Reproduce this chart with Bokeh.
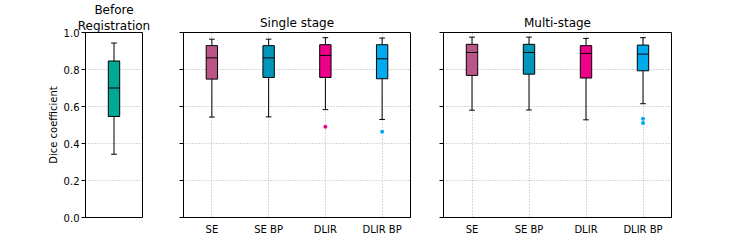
from bokeh.plotting import figure
from bokeh.layouts import row
from bokeh.models import ColumnDataSource, FixedTicker, PrintfTickFormatter, Range1d, Title
from bokeh.embed import file_html
from bokeh.resources import INLINE

# ---- data ----
before_cats = ["Before Registration"]
before_whislo = [0.342]
before_q1 = [0.546]
before_med = [0.700]
before_q3 = [0.846]
before_whishi = [0.943]
before_colors = ["#00A896"]

cats = ["SE", "SE BP", "DLIR", "DLIR BP"]
colors = ["#BB5588", "#0097BB", "#EE0088", "#00AAEE"]

single_whislo = [0.543, 0.544, 0.583, 0.530]
single_q1 = [0.748, 0.757, 0.757, 0.750]
single_med = [0.863, 0.863, 0.876, 0.858]
single_q3 = [0.929, 0.929, 0.934, 0.934]
single_whishi = [0.964, 0.964, 0.972, 0.970]
single_out_cat = ["DLIR", "DLIR BP"]
single_out_val = [0.491, 0.463]

multi_whislo = [0.580, 0.581, 0.528, 0.615]
multi_q1 = [0.768, 0.775, 0.754, 0.793]
multi_med = [0.892, 0.892, 0.887, 0.883]
multi_q3 = [0.936, 0.936, 0.929, 0.932]
multi_whishi = [0.975, 0.975, 0.968, 0.972]
multi_out_cat = ["DLIR BP", "DLIR BP"]
multi_out_val = [0.534, 0.511]

yticks = [0.0, 0.2, 0.4, 0.6, 0.8, 1.0]

FONT = "DejaVu Sans"
BOX_W = 0.2
CAP_W = 0.1
GRID_COLOR = "#b0b0b0"
GRID_DASH = "1 2"


def style_title(t, standoff):
    t.align = "center"
    t.text_font = FONT
    t.text_font_size = "12px"
    t.text_font_style = "normal"
    t.text_color = "#000000"
    t.standoff = standoff
    t.offset = 0


def make_panel(titles, names, lo, q1, med, q3, hi, cols, out_cat, out_val,
               first, frame_w, left, right, show_xlabels, title_standoff):
    n = len(names)
    xs = [i + 1 for i in range(n)]
    p = figure(frame_width=frame_w, frame_height=185,
               output_backend="svg", toolbar_location=None,
               x_range=Range1d(0.5, n + 0.5), y_range=Range1d(0, 1),
               min_border_left=left, min_border_right=right,
               min_border_top=22, min_border_bottom=31)
    # p.title is the outermost line; extra titles are stacked towards the frame
    p.title.text = titles[0]
    style_title(p.title, title_standoff)
    for t in titles[1:]:
        extra = Title(text=t)
        style_title(extra, 0)
        p.add_layout(extra, "above")

    p.outline_line_color = "black"
    p.outline_line_width = 1
    p.background_fill_color = "white"
    p.border_fill_color = "white"

    # y axis
    p.yaxis.ticker = FixedTicker(ticks=yticks)
    p.yaxis.major_tick_out = 4
    p.yaxis.major_tick_in = 0
    p.yaxis.minor_tick_out = 0
    p.yaxis.minor_tick_in = 0
    p.yaxis.axis_line_color = "black"
    p.yaxis.major_tick_line_color = "black"
    p.yaxis.major_label_text_font = FONT
    p.yaxis.major_label_text_font_size = "10px"
    p.yaxis.major_label_text_color = "#000000"
    p.yaxis.major_label_standoff = 2
    if first:
        p.yaxis.formatter = PrintfTickFormatter(format="%.1f")
        p.yaxis.axis_label = "Dice coefficient"
        p.yaxis.axis_label_text_font = FONT
        p.yaxis.axis_label_text_font_size = "10px"
        p.yaxis.axis_label_text_font_style = "normal"
        p.yaxis.axis_label_text_color = "#000000"
        p.yaxis.axis_label_standoff = 2
    else:
        p.yaxis.major_label_overrides = {t: "" for t in yticks}
        p.yaxis.major_label_standoff = 0

    # x axis
    if show_xlabels:
        p.xaxis.ticker = FixedTicker(ticks=xs)
        p.xaxis.major_label_overrides = {x: nm for x, nm in zip(xs, names)}
        p.xaxis.major_tick_out = 0
        p.xaxis.major_tick_in = 0
        p.xaxis.minor_tick_out = 0
        p.xaxis.minor_tick_in = 0
        p.xaxis.axis_line_color = "black"
        p.xaxis.major_label_text_font = FONT
        p.xaxis.major_label_text_font_size = "10px"
        p.xaxis.major_label_text_color = "#000000"
        p.xaxis.major_label_standoff = 6
    else:
        p.xaxis.visible = False

    # grids
    p.ygrid.ticker = FixedTicker(ticks=yticks)
    p.ygrid.grid_line_color = GRID_COLOR
    p.ygrid.grid_line_dash = GRID_DASH
    p.ygrid.grid_line_width = 1
    if show_xlabels:
        p.xgrid.ticker = FixedTicker(ticks=xs)
        p.xgrid.grid_line_color = GRID_COLOR
        p.xgrid.grid_line_dash = GRID_DASH
        p.xgrid.grid_line_width = 1
    else:
        p.xgrid.grid_line_color = None

    src = ColumnDataSource(dict(
        x=xs, lo=lo, q1=q1, med=med, q3=q3, hi=hi, color=cols,
        cl=[x - CAP_W / 2 for x in xs], cr=[x + CAP_W / 2 for x in xs],
        bl=[x - BOX_W / 2 for x in xs], br=[x + BOX_W / 2 for x in xs],
    ))
    p.segment(x0="x", y0="hi", x1="x", y1="q3", source=src, line_color="black", line_width=1)
    p.segment(x0="x", y0="lo", x1="x", y1="q1", source=src, line_color="black", line_width=1)
    p.segment(x0="cl", y0="hi", x1="cr", y1="hi", source=src, line_color="black", line_width=1)
    p.segment(x0="cl", y0="lo", x1="cr", y1="lo", source=src, line_color="black", line_width=1)
    p.vbar(x="x", width=BOX_W, bottom="q1", top="q3", source=src,
           fill_color="color", line_color="black", line_width=1)
    p.segment(x0="bl", y0="med", x1="br", y1="med", source=src, line_color="black", line_width=1)
    if out_cat:
        idx = {nm: i for i, nm in enumerate(names)}
        osrc = ColumnDataSource(dict(
            x=[xs[idx[c]] for c in out_cat], y=out_val,
            color=[cols[idx[c]] for c in out_cat]))
        p.scatter(x="x", y="y", source=osrc, size=4, fill_color="color",
                  line_color=None)
    return p


p1 = make_panel(["Before", "Registration"], before_cats, before_whislo, before_q1, before_med,
                before_q3, before_whishi, before_colors, [], [],
                True, 57, 85, 27, False, 0)
p2 = make_panel(["Single stage"], cats, single_whislo, single_q1, single_med, single_q3,
                single_whishi, colors, single_out_cat, single_out_val,
                False, 227, 14, 19, True, 5)
p3 = make_panel(["Multi-stage"], cats, multi_whislo, multi_q1, multi_med, multi_q3,
                multi_whishi, colors, multi_out_cat, multi_out_val,
                False, 228, 14, 60, True, 5)

layout = row(p1, p2, p3, spacing=0)
open("out.html", "w").write(file_html(layout, INLINE))
